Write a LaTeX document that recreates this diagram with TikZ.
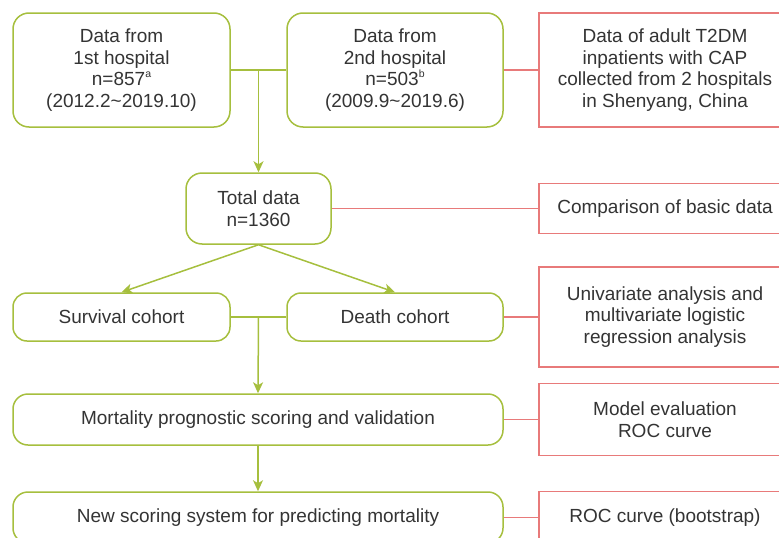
\documentclass[tikz,border=0pt]{standalone}
\usepackage{fontspec}
\setmainfont{Liberation Sans}
\usetikzlibrary{arrows.meta,calc}
\definecolor{flowgreen}{RGB}{166,191,62}
\definecolor{flowred}{RGB}{232,122,122}
\definecolor{flowtext}{RGB}{52,52,52}
\newcommand{\supmark}[1]{\raisebox{8pt}{\fontsize{10.5}{10.5}\selectfont #1}}
\begin{document}
\begin{tikzpicture}[x=1pt,y=-1pt]
  \tikzset{gbox/.style={draw=flowgreen, line width=1.5pt, rounded corners=16pt, fill=white, align=center, inner sep=0pt, text=flowtext, font=\fontsize{19}{21.5}\selectfont},
    rbox/.style={draw=flowred, line width=1.5pt, fill=white, align=center, inner sep=0pt, text=flowtext, font=\fontsize{19}{21.5}\selectfont},
    garrow/.style={draw=flowgreen, line width=1.5pt, -{Stealth[length=11pt,width=10pt,inset=3pt]}},
    gline/.style={draw=flowgreen, line width=1.5pt},
    rline/.style={draw=flowred, line width=1.5pt}}
  \useasboundingbox (0,0) rectangle (779,538);
  \clip (0,0) rectangle (779,538);

  \node[gbox, minimum width=217pt, minimum height=114pt] at (121.5,70) (hosp_1) {Data from\\1st hospital\\n=857\supmark{a}\\(2012.2\textasciitilde2019.10)};
  \node[gbox, minimum width=216pt, minimum height=114pt] at (395,70) (hosp_2) {Data from\\2nd hospital\\n=503\supmark{b}\\(2009.9\textasciitilde2019.6)};
  \node[gbox, minimum width=145pt, minimum height=71pt] at (258.5,208.5) (total) {Total data\\n=1360};
  \node[gbox, minimum width=217pt, minimum height=48pt, rounded corners=14pt] at (121.5,317) (surv) {Survival cohort};
  \node[gbox, minimum width=216pt, minimum height=48pt, rounded corners=14pt] at (395,317) (death) {Death cohort};
  \node[gbox, minimum width=490pt, minimum height=51pt, rounded corners=15pt] at (258,419.5) (mort) {Mortality prognostic scoring and validation};
  \node[gbox, minimum width=490pt, minimum height=51pt, rounded corners=15pt] at (258,517.5) (newsc) {New scoring system for predicting mortality};

  \node[rbox, minimum width=252pt, minimum height=114pt] at (665,70) (r_1) {Data of adult T2DM\\inpatients with CAP\\collected from 2 hospitals\\in Shenyang, China};
  \node[rbox, minimum width=252pt, minimum height=50pt] at (665,208.5) (r_2) {Comparison of basic data};
  \node[rbox, minimum width=252pt, minimum height=100pt] at (665,317) (r_3) {Univariate analysis and\\multivariate logistic\\regression analysis};
  \node[rbox, minimum width=252pt, minimum height=72pt] at (665,419.5) (r_4) {Model evaluation\\ROC curve};
  \node[rbox, minimum width=252pt, minimum height=52pt] at (665,517.5) (r_5) {ROC curve (bootstrap)};

  \coordinate (m_1) at ($(hosp_1.east)!0.5!(hosp_2.west)$);
  \coordinate (m_2) at ($(surv.east)!0.5!(death.west)$);

  \draw[gline] (hosp_1) -- (hosp_2);
  \draw[garrow] (m_1) -- (total.north);
  \draw[garrow] (total.south) -- (surv.north);
  \draw[garrow] (total.south) -- (death.north);
  \draw[gline] (surv) -- (death);
  \draw[garrow] (m_2) -- (mort.north);
  \draw[garrow] (mort) -- (newsc);

  \draw[rline] (hosp_2) -- (r_1);
  \draw[rline] (total) -- (r_2);
  \draw[rline] (death) -- (r_3);
  \draw[rline] (mort) -- (r_4);
  \draw[rline] (newsc) -- (r_5);
\end{tikzpicture}
\end{document}
